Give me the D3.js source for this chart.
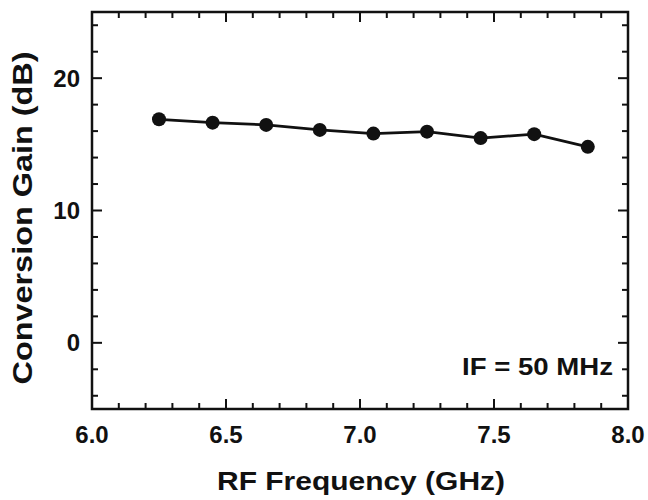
<!DOCTYPE html>
<html><head><meta charset="utf-8">
<script src="https://cdn.jsdelivr.net/npm/d3@7"></script>
<style>body{margin:0;background:#fff}svg{display:block}text{font-family:"Liberation Sans",Arial,sans-serif;font-weight:bold;fill:#111}</style>
</head><body><svg id="c" width="648" height="500"></svg>
<script>
const freq = [6.25, 6.45, 6.65, 6.85, 7.05, 7.25, 7.45, 7.65, 7.85];
const gain = [16.89, 16.64, 16.47, 16.09, 15.81, 15.96, 15.47, 15.77, 14.81];
const xTicks = [6.0, 6.5, 7.0, 7.5, 8.0];
const yTicks = [0, 10, 20];
const xLabel = "RF Frequency (GHz)";
const yLabel = "Conversion Gain (dB)";
const note = "IF = 50 MHz";

const svg = d3.select("#c");
const L = 92, R = 628, T = 12, B = 409;
const x = d3.scaleLinear().domain([6.0, 8.0]).range([L, R]);
const y = d3.scaleLinear().domain([-5, 25]).range([B, T]);

const xMinor = d3.range(61, 80).map(d => d / 10).filter(d => Math.abs(d * 2 - Math.round(d * 2)) > 1e-6);
const yMinor = d3.range(-4, 25, 2).filter(d => d % 10 !== 0);
const ink = "#111";

const tg = svg.append("g").attr("stroke", ink).attr("stroke-width", 2);
function xt(vals, len) {
  tg.selectAll(null).data(vals).join("line")
    .attr("x1", d => x(d)).attr("x2", d => x(d)).attr("y1", B).attr("y2", B - len);
  tg.selectAll(null).data(vals).join("line")
    .attr("x1", d => x(d)).attr("x2", d => x(d)).attr("y1", T).attr("y2", T + len);
}
function yt(vals, len) {
  tg.selectAll(null).data(vals).join("line")
    .attr("y1", d => y(d)).attr("y2", d => y(d)).attr("x1", L).attr("x2", L + len);
  tg.selectAll(null).data(vals).join("line")
    .attr("y1", d => y(d)).attr("y2", d => y(d)).attr("x1", R).attr("x2", R - len);
}
xt(xMinor, 6); xt(xTicks, 10);
yt(yMinor, 6); yt(yTicks, 10);

svg.append("rect").attr("x", L).attr("y", T).attr("width", R - L).attr("height", B - T)
  .attr("fill", "none").attr("stroke", ink).attr("stroke-width", 2.5);

// tick labels
svg.append("g").selectAll("text").data(xTicks).join("text")
  .attr("x", d => x(d)).attr("y", 443).attr("text-anchor", "middle")
  .attr("font-size", 24).text(d => d3.format(".1f")(d));
svg.append("g").selectAll("text").data(yTicks).join("text")
  .attr("x", 80).attr("y", d => y(d)).attr("dy", "0.36em").attr("text-anchor", "end")
  .attr("font-size", 24).text(d => d);

// titles
svg.append("text").attr("x", 361).attr("y", 490).attr("text-anchor", "middle")
  .attr("font-size", 26).attr("textLength", 288).attr("lengthAdjust", "spacingAndGlyphs").text(xLabel);
svg.append("text").attr("transform", "translate(32,218) rotate(-90)").attr("text-anchor", "middle")
  .attr("font-size", 27).attr("textLength", 333).attr("lengthAdjust", "spacingAndGlyphs").text(yLabel);
svg.append("text").attr("x", 462).attr("y", 375)
  .attr("font-size", 24).attr("textLength", 151).attr("lengthAdjust", "spacingAndGlyphs").text(note);

// data
const line = d3.line().x((d, i) => x(freq[i])).y(d => y(d));
svg.append("path").datum(gain).attr("d", line).attr("fill", "none")
  .attr("stroke", ink).attr("stroke-width", 2.8);
svg.append("g").selectAll("circle").data(gain).join("circle")
  .attr("cx", (d, i) => x(freq[i])).attr("cy", d => y(d)).attr("r", 7).attr("fill", ink);
</script></body></html>
